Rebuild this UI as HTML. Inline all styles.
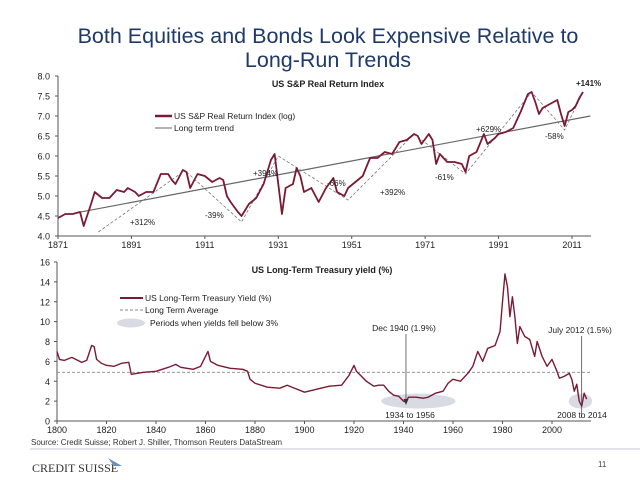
<!DOCTYPE html>
<html><head><meta charset="utf-8"><style>
body{margin:0;width:640px;height:480px;background:#fff;overflow:hidden;font-family:"Liberation Sans",sans-serif}
svg{position:absolute;left:0;top:0}
</style></head><body>
<svg id="c" width="640" height="480" font-family="Liberation Sans, sans-serif"></svg>
<script>
const eqYears=[1871,1873,1875,1877,1878,1880,1881,1883,1885,1887,1889,1890,1892,1893,1895,1897,1899,1901,1902,1903,1905,1906,1907,1909,1911,1913,1915,1916,1917,1918,1920,1921,1923,1925,1927,1929,1930,1932,1933,1935,1936,1937,1938,1940,1942,1944,1946,1947,1949,1950,1952,1954,1956,1958,1960,1962,1964,1966,1968,1969,1970,1972,1973,1974,1975,1977,1979,1981,1982,1983,1985,1987,1988,1990,1991,1993,1995,1997,1999,2000,2001,2002,2003,2005,2007,2008,2009,2010,2011,2012,2013,2014];
const eqValues=[4.45,4.55,4.55,4.6,4.25,4.8,5.1,4.95,4.95,5.15,5.1,5.2,5.1,5.0,5.1,5.1,5.55,5.55,5.4,5.3,5.65,5.6,5.2,5.55,5.5,5.35,5.45,5.4,5.0,4.85,4.6,4.5,4.8,4.95,5.3,5.9,6.05,4.55,5.2,5.3,5.7,5.5,5.1,5.2,4.85,5.2,5.45,5.1,5.0,5.2,5.35,5.5,5.95,5.95,6.1,6.05,6.35,6.4,6.55,6.5,6.3,6.55,6.4,5.8,6.05,5.85,5.85,5.8,5.6,6.0,6.1,6.55,6.3,6.45,6.55,6.6,6.7,7.1,7.55,7.6,7.35,7.05,7.2,7.3,7.4,7.05,6.75,7.1,7.15,7.25,7.45,7.6];
const trendYears=[1876,2016];
const trendValues=[4.58,7.0];
const cycleYears=[1906,1921,1931,1950,1968,1982,2000,2009,2014];
const cycleValues=[5.6,4.35,6.0,4.9,6.55,5.55,7.6,6.65,7.6];
const cycle0Years=[1882,1905];
const cycle0Values=[4.1,5.6];
const eqTicksY=[4.0,4.5,5.0,5.5,6.0,6.5,7.0,7.5,8.0];
const eqTicksX=[1871,1891,1911,1931,1951,1971,1991,2011];

const bYears=[1800,1801,1803,1806,1810,1812,1814,1815,1816,1818,1820,1823,1826,1829,1830,1835,1840,1845,1848,1850,1855,1858,1861,1862,1865,1870,1875,1877,1878,1880,1885,1890,1893,1895,1900,1905,1910,1915,1918,1920,1921,1923,1925,1928,1930,1932,1934,1936,1938,1940,1941,1942,1945,1948,1950,1953,1956,1958,1960,1963,1966,1968,1970,1972,1974,1977,1979,1980,1981,1982,1983,1984,1985,1986,1987,1989,1991,1993,1994,1996,1998,2000,2002,2003,2005,2007,2008,2009,2010,2011,2012,2013,2014];
const bValues=[7.0,6.2,6.1,6.4,5.9,6.1,7.6,7.5,6.2,5.8,5.6,5.5,5.8,5.9,4.7,4.9,5.0,5.4,5.7,5.4,5.2,5.5,7.0,6.0,5.6,5.3,5.2,5.0,4.2,3.8,3.4,3.3,3.6,3.4,2.9,3.2,3.5,3.6,4.6,5.6,5.0,4.5,4.0,3.5,3.6,3.6,3.0,2.6,2.5,2.0,1.9,2.4,2.4,2.3,2.4,2.8,3.0,3.8,4.2,4.0,4.8,5.5,7.0,6.0,7.3,7.6,9.0,12.0,14.8,13.5,10.5,12.5,10.5,7.8,9.5,8.5,8.2,6.5,8.0,6.5,5.5,6.2,5.0,4.3,4.5,4.8,4.2,3.0,3.7,2.0,1.5,2.8,2.2];
const bAverage=[4.9];
const bTicksY=[0,2,4,6,8,10,12,14,16];
const bTicksX=[1800,1820,1840,1860,1880,1900,1920,1940,1960,1980,2000];

const NS="http://www.w3.org/2000/svg";
const svg=document.getElementById('c');
function mk(tag,attrs,parent){const e=document.createElementNS(NS,tag);for(const k in attrs)e.setAttribute(k,attrs[k]);(parent||svg).appendChild(e);return e;}
function txt(s,x,y,size,attrs){const t=mk('text',Object.assign({x:x,y:y,'font-size':size,fill:'#222'},attrs||{}));t.textContent=s;return t;}

const ex=y=>58+(y-1871)*(572-58)/140;
const ey=v=>236-(v-4)*40;
const bx=y=>57+(y-1800)*(552-57)/200;
const by=v=>421-v*(421-262)/16;

let t=txt('Both Equities and Bonds Look Expensive Relative to',328,43,21.5,{'text-anchor':'middle',fill:'#1f3a68'});

t=txt('Long-Run Trends',328,67,21.5,{'text-anchor':'middle',fill:'#1f3a68'});


// ---- top chart
let g=mk('g',{});
mk('line',{x1:58,y1:76,x2:58,y2:236,stroke:'#555','stroke-width':1},g);
mk('line',{x1:58,y1:236,x2:591,y2:236,stroke:'#555','stroke-width':1},g);
eqTicksY.forEach(v=>{mk('line',{x1:55,x2:58,y1:ey(v),y2:ey(v),stroke:'#555'},g);
 const l=txt(v.toFixed(1),50,ey(v)+3.5,9,{'text-anchor':'end'});});
eqTicksX.forEach(y=>{mk('line',{x1:ex(y),x2:ex(y),y1:236,y2:239,stroke:'#555'},g);
 const l=txt(String(y),ex(y),248,9,{'text-anchor':'middle'});});
t=txt('US S&P Real Return Index',328,87,9,{'text-anchor':'middle','font-weight':'bold'});
let p=mk('line',{x1:ex(trendYears[0]),y1:ey(trendValues[0]),x2:ex(trendYears[1]),y2:ey(trendValues[1]),stroke:'#666','stroke-width':1.2},g);

p=mk('polyline',{points:cycleYears.map((y,i)=>ex(y)+','+ey(cycleValues[i])).join(' '),fill:'none',stroke:'#777','stroke-dasharray':'3,2','stroke-width':0.8},g);

p=mk('polyline',{points:cycle0Years.map((y,i)=>ex(y)+','+ey(cycle0Values[i])).join(' '),fill:'none',stroke:'#777','stroke-dasharray':'3,2','stroke-width':0.8},g);

p=mk('polyline',{points:eqYears.map((y,i)=>ex(y)+','+ey(eqValues[i])).join(' '),fill:'none',stroke:'#7a1a35','stroke-width':1.8,'stroke-linejoin':'round'},g);

mk('line',{x1:155,x2:172,y1:116,y2:116,stroke:'#7a1a35','stroke-width':2.5},g);
txt('US S&P Real Return Index (log)',174,119,8.5,{});
mk('line',{x1:155,x2:172,y1:128,y2:128,stroke:'#666','stroke-width':1},g);
txt('Long term trend',174,131,8.5,{});
[['+312%',130,225],['-39%',205,218],['+394%',253,176],['-66%',327,186],['+392%',380,195],['-61%',435,180],['+629%',476,132],['-58%',545,139],['+141%',576,86]].forEach(a=>{
 const l=txt(a[0],a[1],a[2],8,{'font-weight':a[0]=='+141%'?'bold':'normal'});});

// ---- bottom chart
g=mk('g',{});
mk('line',{x1:57,y1:262,x2:57,y2:421,stroke:'#555'},g);
mk('line',{x1:57,y1:421,x2:591,y2:421,stroke:'#555'},g);
bTicksY.forEach(v=>{mk('line',{x1:54,x2:57,y1:by(v),y2:by(v),stroke:'#555'},g);
 const l=txt(String(v),50,by(v)+3.5,9,{'text-anchor':'end'});});
bTicksX.forEach(y=>{mk('line',{x1:bx(y),x2:bx(y),y1:421,y2:424,stroke:'#555'},g);
 const l=txt(String(y),bx(y),433,9,{'text-anchor':'middle'});});
t=txt('US Long-Term Treasury yield (%)',322,273,9,{'text-anchor':'middle','font-weight':'bold'});
p=mk('ellipse',{cx:(bx(1931)+bx(1961))/2,cy:by(2.0),rx:(bx(1961)-bx(1931))/2,ry:7.5,fill:'#d9dbe4'},g);

p=mk('ellipse',{cx:bx(2011.5),cy:by(2.0),rx:(bx(2015)-bx(2008))/2+3,ry:7.5,fill:'#d9dbe4'},g);

p=mk('line',{x1:57,x2:591,y1:by(bAverage[0]),y2:by(bAverage[0]),stroke:'#888','stroke-dasharray':'3,2','stroke-width':0.8},g);

p=mk('polyline',{points:bYears.map((y,i)=>bx(y)+','+by(bValues[i])).join(' '),fill:'none',stroke:'#7a1a35','stroke-width':1.4,'stroke-linejoin':'round'},g);

mk('line',{x1:120,x2:143,y1:298,y2:298,stroke:'#7a1a35','stroke-width':2},g);
txt('US Long-Term Treasury Yield (%)',145,301,8.5,{});
mk('line',{x1:120,x2:143,y1:310,y2:310,stroke:'#888','stroke-dasharray':'3,2'},g);
txt('Long Term Average',145,313,8.5,{});
mk('ellipse',{cx:131,cy:323,rx:14,ry:4.5,fill:'#d9dbe4'},g);
txt('Periods when yields fell below 3%',150,326,8.5,{});
txt('Dec 1940 (1.9%)',404,331,8.5,{'text-anchor':'middle'});
mk('line',{x1:bx(1941),x2:bx(1941),y1:334,y2:403,stroke:'#333','stroke-width':0.7},g);
mk('polygon',{points:`${bx(1941)-2.5},399 ${bx(1941)+2.5},399 ${bx(1941)},405`,fill:'#333'},g);
txt('July 2012 (1.5%)',580,333,8.5,{'text-anchor':'middle'});
mk('line',{x1:bx(2012),x2:bx(2012),y1:336,y2:418,stroke:'#333','stroke-width':0.7},g);
txt('1934 to 1956',410,418,8.5,{'text-anchor':'middle'});
txt('2008 to 2014',582,418,8.5,{'text-anchor':'middle'});

t=txt('Source: Credit Suisse; Robert J. Shiller, Thomson Reuters DataStream',31,445,8,{fill:'#333'});
mk('line',{x1:30,x2:640,y1:449,y2:449,stroke:'#b0b8c8','stroke-width':0.8});
t=txt('CREDIT SUISSE',32,472,12,{'font-family':'Liberation Serif, serif',fill:'#333'});
mk('polygon',{points:'108,458 122,466 114,466',fill:'#6a8fb8'});
t=txt('11',598,467,8,{fill:'#444'});
</script>
</body></html>
